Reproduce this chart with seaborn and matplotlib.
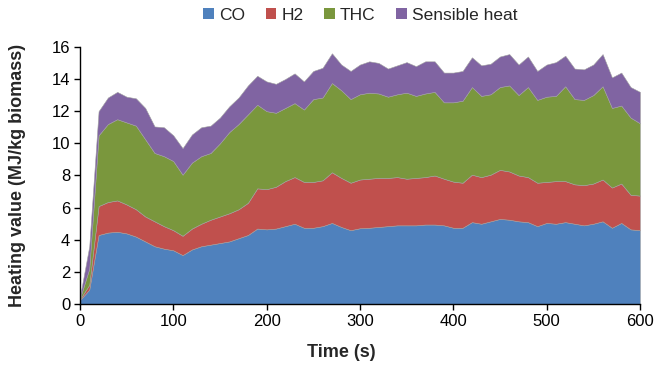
import numpy as np
import pandas as pd
import seaborn as sns
import matplotlib
matplotlib.use("Agg")
import matplotlib.pyplot as plt
from matplotlib.patches import Patch

# Time (s) and heating value contributions (MJ/kg biomass)
time_s = list(range(0, 601, 10))

co = [0.25, 0.9, 4.3, 4.45, 4.5, 4.4, 4.2, 3.9, 3.6, 3.45, 3.35, 3.05, 3.4, 3.6, 3.7,
      3.8, 3.9, 4.1, 4.3, 4.7, 4.65, 4.7, 4.85, 5.0, 4.75, 4.75, 4.85, 5.05, 4.8, 4.6,
      4.72, 4.75, 4.8, 4.85, 4.9, 4.9, 4.9, 4.95, 4.95, 4.9, 4.75, 4.75, 5.1, 5.0, 5.15,
      5.3, 5.25, 5.15, 5.1, 4.85, 5.05, 5.0, 5.1, 5.0, 4.9, 5.0, 5.15, 4.75, 5.05, 4.65,
      4.6]
h2 = [0.05, 0.3, 1.8, 1.9, 1.95, 1.8, 1.7, 1.55, 1.55, 1.4, 1.25, 1.2, 1.3, 1.4, 1.55,
      1.65, 1.75, 1.8, 2.0, 2.5, 2.5, 2.6, 2.8, 2.9, 2.85, 2.85, 2.85, 3.15, 3.05, 2.95,
      3.03, 3.05, 3.05, 3.0, 3.0, 2.9, 2.95, 2.95, 3.05, 2.9, 2.87, 2.8, 2.95, 2.9, 2.9,
      3.05, 3.0, 2.85, 2.8, 2.7, 2.55, 2.65, 2.55, 2.45, 2.5, 2.5, 2.6, 2.5, 2.45, 2.15,
      2.15]
thc = [0.05, 1.0, 4.4, 4.85, 5.05, 5.1, 5.2, 4.8, 4.25, 4.35, 4.3, 3.8, 4.1, 4.2, 4.15,
       4.55, 5.05, 5.3, 5.5, 5.2, 4.85, 4.6, 4.55, 4.6, 4.5, 5.15, 5.15, 5.55, 5.45, 5.2,
       5.3, 5.35, 5.25, 5.05, 5.15, 5.35, 5.1, 5.2, 5.2, 4.75, 4.93, 5.1, 5.45, 5.05, 5.0,
       5.15, 5.35, 5.0, 5.6, 5.15, 5.3, 5.3, 5.9, 5.3, 5.3, 5.5, 5.8, 4.95, 4.85, 4.8,
       4.5]
sensible_heat = [0.1, 1.4, 1.5, 1.65, 1.7, 1.6, 1.7, 1.95, 1.65, 1.8, 1.6, 1.65, 1.75,
                 1.8, 1.7, 1.6, 1.6, 1.65, 1.8, 1.8, 1.85, 1.8, 1.8, 1.85, 1.75, 1.75,
                 1.85, 1.85, 1.6, 1.75, 1.85, 1.95, 1.9, 1.75, 1.8, 1.9, 1.85, 2.0, 1.9,
                 1.85, 1.85, 1.85, 1.85, 1.9, 1.9, 1.9, 1.95, 1.9, 1.9, 1.8, 2.0, 2.1, 1.9,
                 1.9, 1.9, 1.9, 2.0, 1.9, 2.05, 1.9, 1.95]

series_names = ["CO", "H2", "THC", "Sensible heat"]
colors = ["#4F81BD", "#C0504D", "#7A973D", "#8064A2"]

df = pd.DataFrame({"Time": time_s, "CO": co, "H2": h2, "THC": thc,
                   "Sensible heat": sensible_heat})

sns.set_theme(style="ticks")
plt.rcParams["font.family"] = ["Liberation Sans", "DejaVu Sans"]

fig = plt.figure(figsize=(6.55, 3.66), dpi=100)
ax = fig.add_axes([0.122, 0.169, 0.855, 0.703])

ax.stackplot(df["Time"], *[df[n] for n in series_names], colors=colors,
             edgecolor="#a0a0a0", linewidth=0.4)

ax.set_xlim(0, 600)
ax.set_ylim(0, 16)
ax.set_xticks(range(0, 601, 100))
ax.set_yticks(range(0, 17, 2))
ax.tick_params(axis="both", direction="out", length=4, width=1, colors="black",
               labelsize=12, pad=3)
for side in ("left", "bottom"):
    ax.spines[side].set_color("black")
    ax.spines[side].set_linewidth(1)
sns.despine(ax=ax)

ax.set_xlabel("Time (s)", fontsize=13, fontweight="bold", va="center")
ax.set_ylabel("Heating value (MJ/kg biomass)", fontsize=13, fontweight="bold",
              va="center")
ax.xaxis.set_label_coords(0.466, -0.188)
ax.yaxis.set_label_coords(-0.111, 0.5)

handles = [Patch(facecolor=c, edgecolor="none") for c in colors]
fig.legend(handles, series_names, loc="center", bbox_to_anchor=(0.55, 0.958),
           ncol=4, frameon=False, fontsize=12.5, handlelength=0.6,
           handleheight=0.6, handletextpad=0.3, columnspacing=1.2)

fig.savefig("out.png", dpi=100)
